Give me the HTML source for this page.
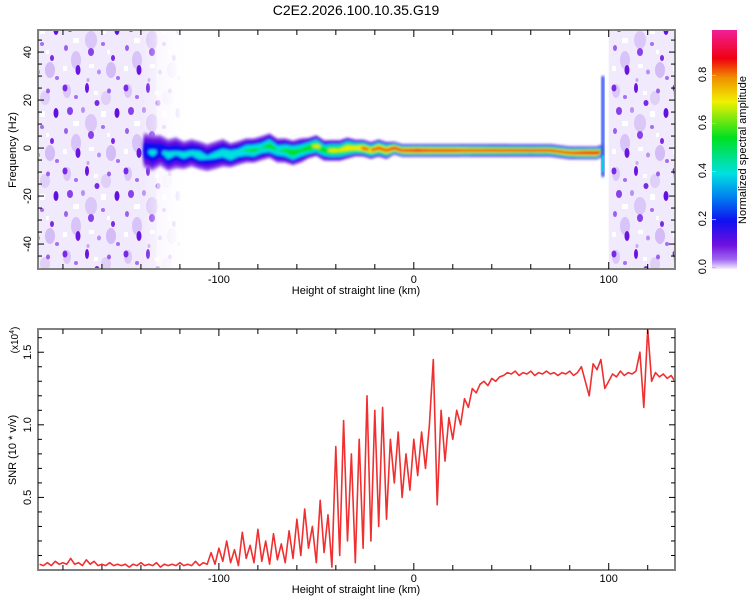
<!DOCTYPE html>
<html><head><meta charset="utf-8">
<style>
body{margin:0;background:#fff;}
svg{display:block;font-family:"Liberation Sans",sans-serif;}
</style></head>
<body>
<svg id="c" width="750" height="600" viewBox="0 0 750 600">
<defs>
<filter id="blur" x="-20%" y="-50%" width="140%" height="200%"><feGaussianBlur stdDeviation="1.3"/></filter>
<pattern id="noise" width="61" height="83" patternUnits="userSpaceOnUse">
<rect width="61" height="83" fill="#f1e9fc"/>
<ellipse cx="6" cy="8" rx="4" ry="7" fill="#dcc8f8"/>
<ellipse cx="30" cy="40" rx="6" ry="9" fill="#dcc8f8"/>
<ellipse cx="50" cy="70" rx="5" ry="8" fill="#d4bcf6"/>
<ellipse cx="45" cy="15" rx="5" ry="7" fill="#e0d0f8"/>
<ellipse cx="15" cy="60" rx="5" ry="9" fill="#d8c4f8"/>
<ellipse cx="4" cy="5" rx="2.5" ry="3.5" fill="#7a2ae6"/>
<ellipse cx="15" cy="14" rx="2" ry="2" fill="#a470f0"/>
<ellipse cx="26" cy="5" rx="2" ry="5" fill="#6a14e2"/>
<ellipse cx="9" cy="28" rx="3" ry="4" fill="#8a40ea"/>
<ellipse cx="22" cy="27" rx="2" ry="3" fill="#b890f4"/>
<ellipse cx="36" cy="20" rx="2.5" ry="3" fill="#7a2ae6"/>
<ellipse cx="48" cy="8" rx="2" ry="2.5" fill="#9a60ee"/>
<ellipse cx="56" cy="30" rx="2.5" ry="5" fill="#6010e0"/>
<ellipse cx="42" cy="44" rx="2" ry="2" fill="#a470f0"/>
<ellipse cx="30" cy="52" rx="3" ry="4" fill="#8a40ea"/>
<ellipse cx="5" cy="48" rx="2" ry="3" fill="#9a60ee"/>
<ellipse cx="17" cy="70" rx="2.5" ry="5" fill="#6a14e2"/>
<ellipse cx="38" cy="72" rx="2" ry="2.5" fill="#b890f4"/>
<ellipse cx="52" cy="58" rx="2" ry="3" fill="#7a2ae6"/>
<ellipse cx="57" cy="78" rx="2" ry="2" fill="#a470f0"/>
<ellipse cx="27" cy="80" rx="1.5" ry="2" fill="#c8a8f6"/>
<rect x="12" y="38" width="6" height="5" fill="#fff"/>
<rect x="40" y="28" width="5" height="6" fill="#fff"/>
<rect x="28" y="64" width="5" height="4" fill="#fff"/>
<rect x="46" y="50" width="3" height="4" fill="#fff"/>
<rect x="2" y="66" width="4" height="5" fill="#fff"/>
<rect x="33" y="8" width="4" height="4" fill="#fff"/>
</pattern>
<linearGradient id="fadeL" x1="0" x2="1" y1="0" y2="0">
<stop offset="0" stop-color="#fff" stop-opacity="0"/>
<stop offset="1" stop-color="#fff" stop-opacity="1"/>
</linearGradient>
<linearGradient id="cbar" x1="0" x2="0" y1="1" y2="0">
<stop offset="0" stop-color="#f4eefc"/>
<stop offset="0.04" stop-color="#a068f0"/>
<stop offset="0.1" stop-color="#7010e0"/>
<stop offset="0.2" stop-color="#1010f0"/>
<stop offset="0.3" stop-color="#0080f0"/>
<stop offset="0.4" stop-color="#00e0e0"/>
<stop offset="0.55" stop-color="#00e020"/>
<stop offset="0.7" stop-color="#f0f000"/>
<stop offset="0.8" stop-color="#f09000"/>
<stop offset="0.88" stop-color="#f00010"/>
<stop offset="1" stop-color="#f02098"/>
</linearGradient>
<clipPath id="topclip"><rect x="38" y="30" width="637" height="239"/></clipPath>
<clipPath id="botclip"><rect x="38" y="329" width="637" height="241"/></clipPath>
</defs>
<text x="356" y="15" font-size="14" text-anchor="middle">C2E2.2026.100.10.35.G19</text>
<g id="topPanel"></g>
<g id="botPanel"></g>
<g id="cbPanel"></g>
</svg>
<script>
// ---- data ----
const ridgeHeights = [-138,-134,-130,-126,-122,-118,-114,-110,-106,-102,-98,-94,-90,-86,-82,-78,-74,-70,-66,-62,-58,-54,-50,-46,-42,-38,-34,-30,-26,-22,-18,-14,-10,-6,-2,2,6,10,20,30,40,50,60,70,80,86,90,94,97];
const ridgeFreqs   = [-1,-2,-1,-3,-2,-3,-2,-3,-4,-3,-2,-3,-2,-1,-1,0,1,-1,-1,-2,-1,0,1,-1,-1,-1,0,0,0,-1,0,-1,0,-1,-1,-1,-1,-1,-1,-1,-1,-1,-1,-1,-2,-2,-2,-2,-1];
const ridgeAmps    = [0.35,0.4,0.35,0.42,0.38,0.42,0.4,0.45,0.38,0.42,0.44,0.5,0.45,0.52,0.55,0.5,0.58,0.5,0.55,0.62,0.55,0.62,0.68,0.6,0.7,0.68,0.76,0.74,0.82,0.78,0.86,0.84,0.9,0.88,0.92,0.94,0.92,0.9,0.9,0.85,0.84,0.82,0.8,0.82,0.88,0.92,0.94,0.95,0.5];
const ridgeHalfWidth = [9,9,8,8,8,7,7,7,7,7,7,6,6,6,6,6,6,6,6,6,6,5,5,5,5,5,5,4,4,4,4,4,3,3,3,3,3,3,3,3,3,3,3,3,3,3,3,3,3];
const snrStart = -192, snrStep = 2;
const snrValues = [0.04,0.03,0.05,0.03,0.06,0.04,0.05,0.04,0.08,0.04,0.05,0.03,0.07,0.04,0.06,0.03,0.04,0.03,0.05,0.03,0.04,0.03,0.04,0.02,0.04,0.03,0.05,0.03,0.04,0.03,0.05,0.02,0.04,0.03,0.04,0.03,0.05,0.03,0.04,0.03,0.06,0.03,0.05,0.04,
0.12,0.04,0.15,0.06,0.2,0.05,0.14,0.03,0.26,0.08,0.17,0.05,0.28,0.06,0.2,0.04,0.25,0.07,0.18,0.05,0.27,0.08,
0.35,0.1,0.42,0.15,0.3,0.05,0.48,0.12,0.38,0.02,
0.85,0.1,1.03,0.2,0.8,0.05,
0.9,0.15,1.2,0.2,1.1,0.3,1.12,0.35,0.9,
0.6,0.95,0.5,0.8,0.55,0.9,0.65,0.95,0.7,1.0,
1.45,0.45,1.1,0.75,1.05,0.9,1.1,1.0,1.18,1.12,1.25,1.22,1.28,1.3,1.27,1.32,1.3,1.33,
1.34,1.36,1.35,1.37,1.34,1.36,1.35,1.37,1.34,1.36,1.35,1.37,1.35,1.36,1.34,1.36,1.35,1.37,1.34,1.36,1.4,1.3,1.2,1.42,1.38,1.45,1.25,1.3,1.35,1.33,1.37,1.34,1.36,1.35,1.37,1.5,1.12,1.66,1.3,1.36,1.33,1.35,1.32,1.34,1.3];
const xTickLabels = [-100,0,100];
const freqTickLabels = [-40,-20,0,20,40];
const snrTickLabels = [0.5,1.0,1.5];
const cbTickLabels = [0.0,0.2,0.4,0.6,0.8];

// ---- scales ----
const NS='http://www.w3.org/2000/svg';
const X0=38,X1=675, KM0=-192.8, KM1=134;
const xs = km => X0 + (km-KM0)/(KM1-KM0)*(X1-X0);
const TY0=30,TY1=269, F0=-50.4, F1=49.2;
const fy = f => TY1 - (f-F0)/(F1-F0)*(TY1-TY0);
const BY0=329,BY1=570, S0=0, S1=1.66;
const sy = s => BY1 - (s-S0)/(S1-S0)*(BY1-BY0);
const CY0=30,CY1=269, C0=-0.01, C1=0.985;
const cy = v => CY1 - (v-C0)/(C1-C0)*(CY1-CY0);
function mk(tag,attrs,parent){const e=document.createElementNS(NS,tag);for(const k in attrs)e.setAttribute(k,attrs[k]);parent.appendChild(e);return e;}

function cmap(a){
  const st=[[0,[244,238,252]],[0.08,[150,90,240]],[0.15,[106,16,224]],[0.25,[16,16,240]],[0.38,[0,224,224]],[0.52,[0,224,32]],[0.66,[240,240,0]],[0.8,[240,0,16]],[1,[240,32,152]]];
  for(let i=1;i<st.length;i++){if(a<=st[i][0]){const t=(a-st[i-1][0])/(st[i][0]-st[i-1][0]);const c=st[i-1][1].map((v,j)=>Math.round(v+(st[i][1][j]-v)*t));return 'rgb('+c.join(',')+')';}}
  return 'rgb(240,32,152)';
}

// ---- top panel ----
const topP=document.getElementById('topPanel');
const tg=mk('g',{'clip-path':'url(#topclip)'},topP);
const nL=mk('rect',{x:xs(KM0),y:TY0,width:xs(-132)-xs(KM0),height:TY1-TY0,fill:'url(#noise)'},tg);


const nF=mk('rect',{x:xs(-132),y:TY0,width:xs(-118)-xs(-132),height:TY1-TY0,fill:'url(#noise)',opacity:0.5},tg);


mk('rect',{x:xs(-140),y:TY0,width:xs(-118)-xs(-140),height:TY1-TY0,fill:'url(#fadeL)'},tg);
const nR=mk('rect',{x:xs(100),y:TY0,width:xs(KM1)-xs(100),height:TY1-TY0,fill:'url(#noise)'},tg);


const rg=mk('g',{filter:'url(#blur)'},tg);


const levels=[0.08,0.15,0.25,0.38,0.52,0.66,0.8];
for(const l of levels){
  for(let i=0;i<ridgeHeights.length-1;i++){
    const n=Math.max(2,Math.round((ridgeHeights[i+1]-ridgeHeights[i])));
    for(let k=0;k<n;k++){
      const t=k/n;
      const h=ridgeHeights[i]+t*(ridgeHeights[i+1]-ridgeHeights[i]);
      const f=ridgeFreqs[i]+t*(ridgeFreqs[i+1]-ridgeFreqs[i]);
      const a=ridgeAmps[i]+t*(ridgeAmps[i+1]-ridgeAmps[i]);
      const hw=ridgeHalfWidth[i]+t*(ridgeHalfWidth[i+1]-ridgeHalfWidth[i]);
      if(l>a) continue;
      const r=Math.pow(1-l/(a+0.02),0.8);
      const ry=Math.max(1.2,hw*2.4*r);
      mk('ellipse',{cx:xs(h),cy:fy(f),rx:2.2,ry:ry,fill:cmap(l)},rg);
    }
  }
}
const sp=mk('rect',{x:xs(97)-1.5,y:fy(30),width:3,height:fy(-12)-fy(30),fill:'#2040f0',filter:'url(#blur)'},tg);


mk('rect',{x:xs(97)-0.8,y:fy(-3),width:2,height:fy(-10)-fy(-3),fill:'#00d0e0'},tg);

function frame(g,y0,y1){
  mk('rect',{x:X0,y:y0,width:X1-X0,height:y1-y0,fill:'none',stroke:'#808080','stroke-width':2},g);
}
function xticks(g,y0,y1,ly){
  for(let km=-180;km<=130;km+=20){
    const x=xs(km), L=(km%100===0)?7:5;
    mk('line',{x1:x,x2:x,y1:y1,y2:y1-L,stroke:'#000'},g);
    mk('line',{x1:x,x2:x,y1:y0,y2:y0+L,stroke:'#000'},g);
  }
  xTickLabels.forEach(v=>{const t=mk('text',{x:xs(v),y:ly,'font-size':11,'text-anchor':'middle'},g);t.textContent=v;
    
    });
  const tt=mk('text',{x:356,y:ly+11,'font-size':11,'text-anchor':'middle'},g);tt.textContent='Height of straight line (km)';
  
  
}
frame(topP,TY0,TY1);
xticks(topP,TY0,TY1,283);
for(let f=-50;f<=45;f+=5){const y=fy(f);if(y<TY0+1||y>TY1-1)continue;const L=f%20===0?6:4;
  mk('line',{x1:X0,x2:X0+L,y1:y,y2:y,stroke:'#000'},topP);mk('line',{x1:X1,x2:X1-L,y1:y,y2:y,stroke:'#000'},topP);}
freqTickLabels.forEach(v=>{const t=mk('text',{x:0,y:0,'font-size':11,'text-anchor':'middle',transform:'translate(31,'+fy(v)+') rotate(-90)'},topP);t.textContent=v;
  
  });
const fyt=mk('text',{x:0,y:0,'font-size':11,'text-anchor':'middle',transform:'translate(16,150) rotate(-90)'},topP);fyt.textContent='Frequency (Hz)';



// ---- bottom panel ----
const botP=document.getElementById('botPanel');
const bg=mk('g',{'clip-path':'url(#botclip)'},botP);
let pathD='';
snrValues.forEach((v,i)=>{pathD+=(i?'L':'M')+xs(snrStart+i*snrStep).toFixed(1)+','+sy(v).toFixed(1);});
const ln=mk('path',{d:pathD,fill:'none',stroke:'#f03030','stroke-width':1.6,'stroke-linejoin':'round'},bg);


frame(botP,BY0,BY1);
xticks(botP,BY0,BY1,582);
for(let j=1;j<=16;j++){const s=j/10;const y=sy(s);const L=(j%5===0)?6:4;
  mk('line',{x1:X0,x2:X0+L,y1:y,y2:y,stroke:'#000'},botP);mk('line',{x1:X1,x2:X1-L,y1:y,y2:y,stroke:'#000'},botP);}
snrTickLabels.forEach(v=>{const t=mk('text',{x:0,y:0,'font-size':11,'text-anchor':'middle',transform:'translate(31,'+sy(v)+') rotate(-90)'},botP);t.textContent=v.toFixed(1);
  
  });
const syt=mk('text',{x:0,y:0,'font-size':11,'text-anchor':'middle',transform:'translate(16,450) rotate(-90)'},botP);syt.textContent='SNR (10 * v/v)';


const ex=mk('text',{x:0,y:0,'font-size':10,'text-anchor':'middle',transform:'translate(18,340) rotate(-90)'},botP);


ex.appendChild(document.createTextNode('(x10'));
const sup=mk('tspan',{dy:-4,'font-size':7},ex);sup.textContent='4';
const cl=mk('tspan',{dy:4},ex);cl.textContent=')';

// ---- colorbar ----
const cbP=document.getElementById('cbPanel');
mk('rect',{x:712,y:CY0,width:25,height:CY1-CY0,fill:'url(#cbar)'},cbP);
cbTickLabels.forEach(v=>{const y=cy(v);
  mk('line',{x1:712,x2:716,y1:y+1,y2:y+1,stroke:'#bbb'},cbP);
  const t=mk('text',{x:0,y:0,'font-size':11,'text-anchor':'middle',transform:'translate(706,'+y+') rotate(-90)'},cbP);t.textContent=v.toFixed(1);
  
  });
const ct=mk('text',{x:0,y:0,'font-size':11,'text-anchor':'middle',transform:'translate(746,150) rotate(-90)'},cbP);ct.textContent='Normalized spectral amplitude';


</script>
</body></html>
